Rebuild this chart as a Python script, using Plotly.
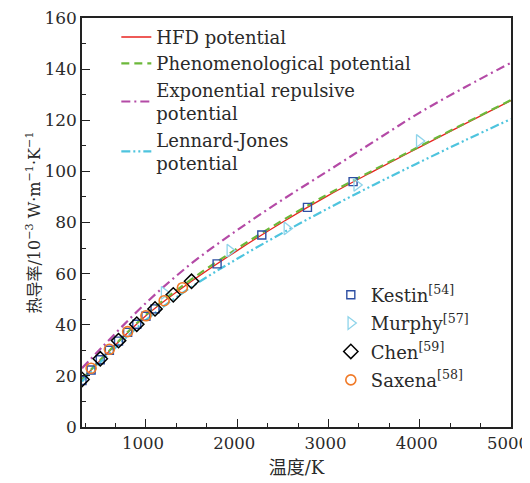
import plotly.graph_objects as go

# ---- data ----
T_curve = [300, 500, 1000, 1500, 2000, 2500, 3000, 3500, 4000, 4500, 5000]
hfd = [18.5, 26.0, 43.5, 57.0, 69.0, 80.2, 90.6, 100.2, 109.5, 118.7, 127.7]
pheno = [18.6, 26.2, 43.9, 57.8, 69.8, 80.9, 91.2, 100.6, 109.8, 118.9, 127.9]
expo = [23.0, 30.5, 48.5, 64.0, 77.0, 89.0, 100.3, 111.7, 123.0, 133.0, 142.5]
lj = [17.8, 25.3, 41.8, 54.8, 65.8, 76.0, 85.6, 94.8, 103.6, 112.2, 120.5]

kestin_T = [300, 400, 500, 600, 700, 800, 900, 1000, 1100, 1780, 2270, 2770, 3270]
kestin_k = [18.2, 22.3, 26.3, 30.0, 33.6, 37.0, 40.2, 43.3, 46.2, 63.8, 75.1, 85.9, 96.0]
murphy_T = [1200, 1920, 2545, 3310, 3995]
murphy_k = [52.5, 69.0, 77.7, 94.7, 111.9]
chen_T = [300, 500, 700, 900, 1100, 1300, 1500]
chen_k = [18.6, 26.7, 33.8, 40.2, 46.2, 51.7, 57.0]
saxena_T = [400, 600, 800, 1000, 1200, 1400]
saxena_k = [23.0, 30.4, 37.3, 43.5, 49.4, 54.5]

x_ticks = [1000, 2000, 3000, 4000, 5000]
y_ticks = [0, 20, 40, 60, 80, 100, 120, 140, 160]

FONT = "DejaVu Serif, Noto Sans CJK SC"
TXT = "#2a2a2a"

fig = go.Figure()

fig.add_trace(go.Scatter(x=T_curve, y=hfd, mode="lines", name="HFD potential",
                         line=dict(color="#e8231f", width=1.3, shape="spline"),
                         legend="legend", legendgroup="a"))
fig.add_trace(go.Scatter(x=T_curve, y=pheno, mode="lines", name="Phenomenological potential",
                         line=dict(color="#6cb83a", width=2.2, dash="8px,5px", shape="spline"),
                         legend="legend", legendgroup="b"))
fig.add_trace(go.Scatter(x=T_curve, y=expo, mode="lines", name="Exponential repulsive<br>potential",
                         line=dict(color="#b44aa6", width=2.2, dash="9px,4px,2px,4px", shape="spline"),
                         legend="legend", legendgroup="c"))
fig.add_trace(go.Scatter(x=T_curve, y=lj, mode="lines", name="Lennard-Jones<br>potential",
                         line=dict(color="#4ec4de", width=2.2, dash="9px,3px,2px,3px,2px,3px", shape="spline"),
                         legend="legend", legendgroup="d"))

fig.add_trace(go.Scatter(x=kestin_T, y=kestin_k, mode="markers", name="Kestin<sup>[54]</sup>",
                         marker=dict(symbol="square-open", size=8, color="#2e4fa3", line=dict(width=1.4)),
                         legend="legend2", legendgroup="e"))
fig.add_trace(go.Scatter(x=murphy_T, y=murphy_k, mode="markers", name="Murphy<sup>[57]</sup>",
                         marker=dict(symbol="triangle-right-open", size=11, color="#8fd4ea", line=dict(width=1.3)),
                         legend="legend2", legendgroup="f"))
fig.add_trace(go.Scatter(x=chen_T, y=chen_k, mode="markers", name="Chen<sup>[59]</sup>",
                         marker=dict(symbol="diamond-open", size=11, color="#000000", line=dict(width=1.5)),
                         legend="legend2", legendgroup="g"))
fig.add_trace(go.Scatter(x=saxena_T, y=saxena_k, mode="markers", name="Saxena<sup>[58]</sup>",
                         marker=dict(symbol="circle-open", size=10, color="#f07a28", line=dict(width=1.6)),
                         legend="legend2", legendgroup="h"))

# the page body adds an 8px offset, so the figure is 8px smaller on each side
fig.update_layout(
    width=522, height=475,
    margin=dict(l=74, r=19, t=10, b=56, autoexpand=False),
    paper_bgcolor="white", plot_bgcolor="white",
    font=dict(family=FONT, size=17, color=TXT),
    showlegend=True,
    legend=dict(x=0.08, y=0.998, xanchor="left", yanchor="top",
                bgcolor="rgba(0,0,0,0)", font=dict(size=18), tracegroupgap=0),
    legend2=dict(x=0.58, y=0.368, xanchor="left", yanchor="top",
                 bgcolor="rgba(0,0,0,0)", font=dict(size=18), tracegroupgap=2),
    xaxis=dict(range=[300, 5000], tickmode="array", tickvals=x_ticks, ticks="inside", ticklen=8,
               tickwidth=1.2, tickcolor="#222", showline=True, linecolor="#222",
               linewidth=1.5, mirror=True, showgrid=False, zeroline=False,
               ticklabeloverflow="allow", automargin=False, ticklabelshift=-3,
               minor=dict(tick0=0, dtick=1000 / 3, ticks="inside", ticklen=4,
                          tickcolor="#222", showgrid=False),
               title=dict(text="温度/K", font=dict(size=18), standoff=10),
               tickfont=dict(size=16.5)),
    yaxis=dict(range=[0, 160], tickmode="array", tickvals=y_ticks, ticks="inside", ticklen=8,
               tickwidth=1.2, tickcolor="#222", showline=True, linecolor="#222",
               linewidth=1.5, mirror=True, showgrid=False, zeroline=False,
               ticklabeloverflow="allow", automargin=False,
               minor=dict(tick0=0, dtick=10, ticks="inside", ticklen=4, tickcolor="#222",
                          showgrid=False),
               title=dict(text="热导率/10<sup>−3</sup> W·m<sup>−1</sup>·K<sup>−1</sup>",
                          font=dict(size=16), standoff=0),
               tickfont=dict(size=17)),
)

fig.write_html("out.html")
